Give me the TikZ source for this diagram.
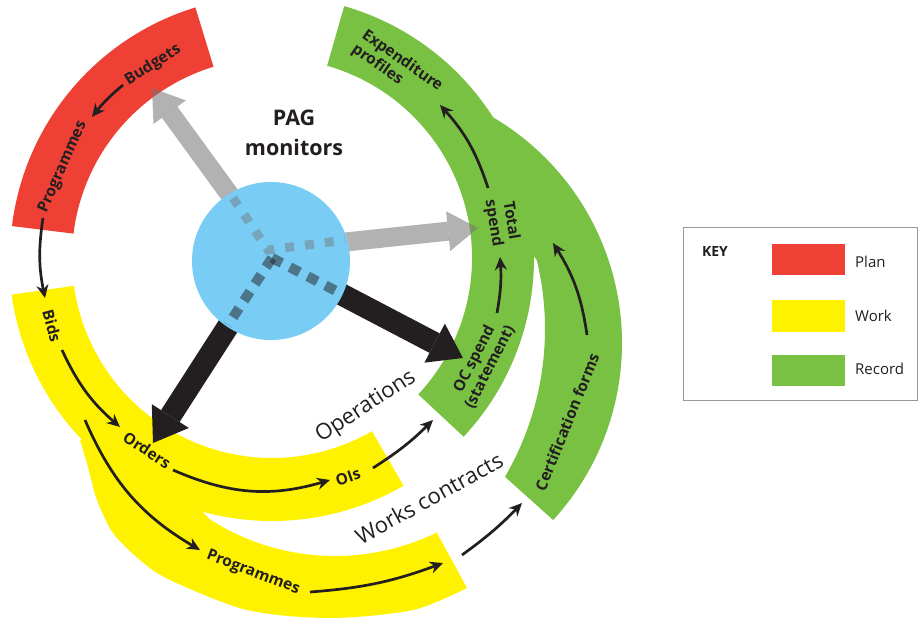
\documentclass[tikz,border=0pt]{standalone}
\usepackage{fontspec}
\setmainfont{Open Sans}
\usetikzlibrary{arrows.meta,calc}
\definecolor{planred}{HTML}{EF4036}
\definecolor{workyel}{HTML}{FFF200}
\definecolor{recgreen}{HTML}{79C143}
\definecolor{pagblue}{HTML}{79CDF4}
\definecolor{arrgray}{HTML}{747474}
\definecolor{inkblack}{HTML}{231F20}
\definecolor{keyframe}{HTML}{999999}
\begin{document}
\begin{tikzpicture}[x=1pt,y=1pt,
  bandlabel/.style={font=\fontsize{15.5}{17.5}\selectfont\bfseries, text=inkblack, align=center, inner sep=0pt},
  flow/.style={draw=inkblack, line width=2.7pt, -{Stealth[length=13pt,width=12pt]}},
  bigtext/.style={font=\fontsize{22}{24}\selectfont, text=inkblack, inner sep=0pt},
  grayarrow/.style={draw=arrgray, line width=19pt, opacity=0.55, -{Triangle[length=30pt,width=40pt,line width=0pt]}},
  blackarrow/.style={draw=inkblack, line width=22pt, -{Triangle[length=32pt,width=44pt,line width=0pt]}},
  lightdots/.style={draw=arrgray, opacity=0.45, line width=9pt, dash pattern=on 9pt off 11pt},
  darkdots/.style={draw=inkblack, opacity=0.5, line width=10pt, dash pattern=on 11pt off 9pt},
  keylabel/.style={font=\fontsize{15}{16}\selectfont, text=inkblack, anchor=west, inner sep=0pt},
  swatch/.style={minimum width=73pt, minimum height=31pt, inner sep=0pt, draw=none},
]
\useasboundingbox (0,0) rectangle (919,625);
\fill[white] (0,0) rectangle (919,625);
\clip (0,0) rectangle (919,625);

% centres of the arcs
\coordinate (O) at (272,367);
\coordinate (G) at (360,282);
\coordinate (H) at (252,296);
\coordinate (Yi) at (335,301);

% bands
\fill[planred] ($(O)+(107:262)$) arc[start angle=107,end angle=173,radius=262]
  -- ($(O)+(173:200)$) arc[start angle=173,end angle=107,radius=200] -- cycle;
\fill[workyel] ($(O)+(188:263)$) arc[start angle=188,end angle=300,radius=263]
  -- ($(O)+(300:200)$) arc[start angle=300,end angle=188,radius=200] -- cycle;
\fill[workyel] plot[smooth] coordinates {(80,185) (88,158) (97,125) (113,92) (140,65) (170,45) (247,15) (330,7) (413,15) (467,37)}
  -- ($(Yi)+(296:232)$) arc[start angle=296,end angle=237.5,radius=232] -- (120,195) -- cycle;
\fill[recgreen] ($(O)+(-43:262)$) arc[start angle=-43,end angle=74,radius=262]
  -- ($(O)+(74:200)$) arc[start angle=74,end angle=-43,radius=200] -- cycle;
\fill[recgreen] ($(G)+(60.9:262)$) arc[start angle=60.9,end angle=-42.5,radius=262]
  -- ($(H)+(-30.3:293)$) arc[start angle=-30.3,end angle=13.6,radius=293] -- (480,445) -- cycle;

% big arrows from the hub
\coordinate (hubg) at (270,375);
\coordinate (hubk) at (272,367);
\coordinate (tipBud) at (152,537);
\coordinate (tipTot) at (478,397);
\coordinate (tipOrd) at (153,182);
\coordinate (tipOC) at (463,267);
\draw[grayarrow] (hubg) -- (tipBud);
\draw[grayarrow] (hubg) -- (tipTot);
\draw[blackarrow] (hubk) -- (tipOrd);
\draw[blackarrow] (hubk) -- (tipOC);

% PAG circle
\node[circle, fill=pagblue, minimum size=158pt, inner sep=0pt] (pag) at (271,364) {};
\draw[lightdots] (233,427) -- (268,375) -- (345,385);
\draw[darkdots] (272,367) -- (342,331);
\draw[darkdots] (272,367) -- (228,300);

\node[font=\fontsize{21.5}{30}\selectfont\bfseries, text=inkblack, align=center] (pagtext) at (294,492) {PAG\\monitors};

% labels in bands
\node[bandlabel, rotate=32] (budgets) at (153,560) {Budgets};
\node[bandlabel, rotate=66] (progplan) at (63,458) {Programmes};
\node[bandlabel, rotate=-75] (bids) at (52,299) {Bids};
\node[bandlabel, rotate=-33] (orders) at (147,175) {Orders};
\node[bandlabel, rotate=19] (ois) at (348,148) {OIs};
\node[bandlabel, rotate=-21] (progwork) at (253,52) {Programmes};
\node[bandlabel, rotate=63] (ocspend) at (482,262) {OC spend\\(statement)};
\node[bandlabel, rotate=-81] (total) at (502,403) {Total\\spend};
\node[bandlabel, rotate=-35, align=left] (expend) at (397,557) {Expenditure\\profiles};
\node[bandlabel, rotate=68] (cert) at (567,203) {Certification forms};
\node[bigtext, rotate=33] (operations) at (366,218) {Operations};
\node[bigtext, rotate=29] (works) at (429,127) {Works contracts};

% flow arrows
\coordinate (a1s) at (123,540); \coordinate (a1e) at (92,508);
\coordinate (a2s) at (43,407);  \coordinate (a2e) at (45,327);
\coordinate (a3s) at (62,275);  \coordinate (a3e) at (120,198);
\coordinate (a4s) at (173,155); \coordinate (a4e) at (330,145);
\coordinate (a5s) at (373,157); \coordinate (a5e) at (433,205);
\coordinate (a6s) at (497,312); \coordinate (a6e) at (500,368);
\coordinate (a7s) at (488,437); \coordinate (a7e) at (440,520);
\coordinate (a8s) at (587,290); \coordinate (a8e) at (553,382);
\coordinate (a9s) at (85,205);  \coordinate (a9e) at (200,75);
\coordinate (a10s) at (310,33); \coordinate (a10e) at (443,62);
\coordinate (a11s) at (462,70); \coordinate (a11e) at (522,122);
\draw[flow] (a1s) to[bend right=6] (a1e);
\draw[flow] (a2s) to[bend right=10] (a2e);
\draw[flow] (a3s) to[bend right=12] (a3e);
\draw[flow] (a4s) to[bend right=20] (a4e);
\draw[flow] (a5s) to[bend right=6] (a5e);
\draw[flow] (a6s) to[bend right=7] (a6e);
\draw[flow] (a7s) to[bend right=12] (a7e);
\draw[flow] (a8s) to[bend right=12] (a8e);
\draw[flow] (a9s) to[bend right=18] (a9e);
\draw[flow] (a10s) to[bend right=8] (a10e);
\draw[flow] (a11s) to[bend right=5] (a11e);

% key
\node[draw=keyframe, line width=1pt, minimum width=234pt, minimum height=172pt, inner sep=0pt] (keybox) at (800,311) {};
\node[font=\fontsize{14}{16}\selectfont\bfseries, text=inkblack, inner sep=0pt] (keytitle) at (715,373) {KEY};
\node[swatch, fill=planred] (swplan) at (808.5,365.5) {};
\node[swatch, fill=workyel] (swwork) at (808.5,309) {};
\node[swatch, fill=recgreen] (swrec) at (808.5,254.5) {};
\node[keylabel] (lplan) at (855,363) {Plan};
\node[keylabel] (lwork) at (855,309) {Work};
\node[keylabel] (lrec) at (855,256) {Record};
\end{tikzpicture}
\end{document}
